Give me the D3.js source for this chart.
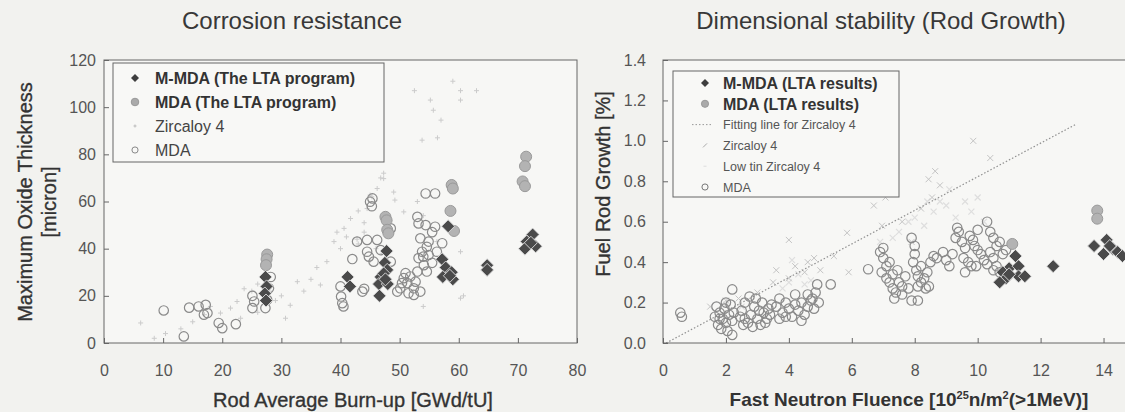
<!DOCTYPE html>
<html>
<head>
<meta charset="utf-8">
<script src="https://cdn.jsdelivr.net/npm/d3@7"></script>
<style>
  body { margin: 0; background: #f2f2ef; }
  svg { display: block; font-family: Arial, "Liberation Sans", sans-serif; }
  .tick text { fill: #555; font-size: 16px; }
  .heavy { stroke: #333; stroke-width: 0.35px; }
</style>
</head>
<body>
<svg id="chart" width="1125" height="412"></svg>
<script>
// ---- left chart: corrosion (burn-up GWd/tU, oxide micron) ----
var corrMMDA = [[27.3,28],[27.5,24],[27.2,21],[27.4,18],[41.2,28],[41.6,24],
    [47.8,39],[47.5,34],[47.9,31],[46.8,28],[47.3,29.5],[46.5,25],[48,25],[46.6,20],[47.6,27],
    [58.2,49.5],[57.2,35.5],[57.8,32],[58.8,30],[57.3,28],[59,27],[58.5,28.5],
    [64.8,33],[64.8,31],[72.5,46],[71.5,43],[73,41],[71.2,40],[72.2,42.5]];
var corrMDALTA = [[27.6,37.5],[27.5,35.5],[27.4,33],[47.6,53.5],[47.8,52],[47.9,48],[48.1,46.5],
    [58.8,67],[59,65.5],[58.6,56],[59.2,47.5],[71.4,79],[71.2,75],[70.8,68.5],[71.2,66.5]];
var corrZirc = [[6.2,8.5],[8.5,2],[10.4,4],[13,6],[15,9],[17,12],[18,15.5],[19.7,12.7],[21.4,14.8],
    [22.5,17.6],[23.7,23],[23.1,10.5],[26,13],[25,22],[26,25],[28,22],[29,18],[30,20],[30.7,10.5],
    [31.5,16],[32.7,26],[33.8,22],[35,27],[36,32],[36.6,24.6],[37.7,34.5],[38.9,43],[39.4,47],
    [40.6,48.6],[40,40],[41,45],[41.7,52.8],[42.8,44],[43,42],[43,56],[44,47],[44,51],[44.5,57],
    [45,35],[45,62.7],[45.3,62],[46,40],[46.2,65.5],[46.7,79],[46.8,70],[47,38],[47.3,72],[47.3,69.7],
    [49,64],[49.2,60.6],[50.7,55.6],[53,60],[54,54],[54,15.5],[56.3,43],[60.3,38.7],[60.8,20],
    [60.3,19],[52.5,107],[55.2,103],[60.3,107],[55.7,98.7],[57,94.5],[60.3,103],[53.8,86],
    [56.4,87],[63,107],[59,111]];
var corrMDA = [[10.1,13.8],[13.5,2.8],[14.4,15],[16,15.5],[17.2,16.2],[17.5,12.7],[16.9,12],
    [19.4,8.5],[20,6.3],[22.3,8],[25.1,20],[25.1,14.8],[25.4,17.6],[27.3,14.8],[27.6,18.3],
    [27.9,23.2],[28.2,28],[40.1,19.7],[40.3,16.9],[40.5,15.5],[40,24],[42,35.6],[42.8,43],
    [44.5,43.7],[44.5,38.7],[44.8,36.6],[45.6,34.5],[45,59.9],[45.3,58],[45.4,61.3],[46.2,43.7],
    [46.8,39.4],[48.5,48.6],[48.5,34.5],[43.7,21.8],[44,23],[49.6,21.8],[50.7,27.5],[51.3,25.4],
    [51.8,28.2],[52.4,23.2],[53,30.3],[50.1,23.2],[50.4,25.4],[51,29.6],[52.7,26],[53.2,36],
    [53.8,38.7],[54.1,33],[54.9,37.3],[55.5,34],[54.6,40.8],[53.5,44.4],[54.9,43],[53,53.5],
    [53.2,50.7],[54.4,50],[55.5,47],[56,49.3],[57.2,42.3],[54.4,63.4],[56,63.4],[54,36.6],
    [56.3,38.7],[54.6,30.3],[53.5,21.8],[52.4,20.4],[51.5,21.1]];

// ---- right chart: rod growth (fluence 1e25 n/m2, growth %) ----
var growthMMDA = [[11.2,0.43],[11.0,0.37],[10.8,0.35],[11.3,0.38],[10.9,0.32],[11.3,0.33],
    [10.7,0.30],[11.5,0.33],[11.0,0.34],[12.4,0.38],[13.7,0.48],[14.1,0.51],[14.3,0.465],
    [14.0,0.44],[14.45,0.45],[14.6,0.43],[14.2,0.48]];
var growthMDALTA = [[11.1,0.49],[13.8,0.655],[13.8,0.615]];
var fitLine = [[0.1,0.0],[13.1,1.08]];
var growthZirc = [[1.5,0.18],[2.0,0.21],[2.4,0.22],[3.0,0.25],[3.5,0.3],[3.6,0.36],[4.0,0.32],
    [4.2,0.38],[4.5,0.35],[4.6,0.4],[4.8,0.42],[5.0,0.36],[4.0,0.51],[5.85,0.545],[5.43,0.43],
    [5.9,0.35],[6.7,0.68],[7.07,0.72],[8.44,0.81],[8.65,0.85],[8.8,0.78],[8.55,0.72],[9.86,1.0],
    [10.4,0.915],[6.96,0.58],[7.6,0.6],[8.2,0.665],[7.9,0.5]];
var growthLowTin = [[3.8,0.27],[4.0,0.3],[4.3,0.34],[4.5,0.29],[4.7,0.31],[4.1,0.41],[7.5,0.55],
    [7.8,0.6],[8.0,0.62],[8.3,0.58],[8.6,0.65],[8.8,0.7],[9.0,0.68],[9.3,0.62],[9.6,0.7],[9.8,0.65],
    [10.0,0.72],[10.2,0.6],[9.1,0.76],[8.4,0.7],[7.3,0.52],[6.9,0.5],[2.0,0.19],[2.5,0.18]];
var growthMDA = [[0.55,0.15],[0.6,0.13],
    [1.7,0.18],[1.8,0.15],[1.9,0.12],[2.0,0.10],[1.75,0.09],[2.1,0.14],[2.2,0.11],[1.85,0.07],
    [2.05,0.06],[2.2,0.04],[1.95,0.17],[2.15,0.19],[1.65,0.13],[2.25,0.15],[2.0,0.2],[1.8,0.12],
    [2.2,0.265],[2.5,0.16],[2.6,0.12],[2.7,0.1],[2.8,0.14],[2.9,0.18],[3.0,0.12],[3.1,0.09],
    [3.2,0.15],[3.3,0.12],[3.4,0.14],[2.6,0.2],[2.75,0.23],[2.95,0.22],[3.15,0.2],[3.35,0.17],
    [2.55,0.09],[3.05,0.16],[3.25,0.1],[2.85,0.08],[3.45,0.19],[2.45,0.13],
    [3.6,0.18],[3.7,0.22],[3.8,0.15],[3.9,0.2],[4.0,0.17],[4.1,0.13],[4.2,0.19],[4.3,0.16],
    [4.4,0.2],[4.5,0.14],[4.6,0.18],[4.7,0.21],[4.8,0.17],[4.85,0.25],[4.9,0.29],[4.75,0.22],
    [4.2,0.24],[3.9,0.13],[4.4,0.11],[4.6,0.24],[3.7,0.12],[4.95,0.2],[5.33,0.29],[6.52,0.365],
    [6.9,0.45],[7.0,0.42],[7.1,0.38],[6.95,0.35],[7.2,0.3],[7.3,0.27],[7.4,0.25],[7.1,0.32],
    [7.5,0.3],[7.6,0.28],[7.3,0.34],[7.2,0.4],[7.45,0.36],[7.7,0.33],[7.35,0.22],[7.0,0.47],
    [7.6,0.24],[7.8,0.27],[7.9,0.52],[8.0,0.48],[8.0,0.44],[7.95,0.4],[8.05,0.36],[8.1,0.33],
    [8.2,0.3],[8.3,0.32],[8.4,0.35],[8.2,0.38],[8.5,0.4],[8.6,0.43],[8.7,0.42],[8.35,0.27],
    [8.1,0.28],[7.9,0.21],[8.1,0.21],[8.45,0.28],
    [8.9,0.45],[9.0,0.41],[9.2,0.44],[9.1,0.38],[9.3,0.52],[9.4,0.55],[9.5,0.5],[9.35,0.57],
    [9.6,0.47],[9.7,0.4],[9.8,0.38],[9.55,0.42],[9.75,0.53],[9.85,0.51],[9.9,0.48],[10.0,0.46],
    [10.1,0.44],[10.2,0.41],[9.95,0.38],[10.3,0.39],[10.0,0.56],[9.6,0.35],
    [10.3,0.6],[10.4,0.55],[10.5,0.52],[10.6,0.48],[10.4,0.45],[10.5,0.42],[10.6,0.38],
    [10.7,0.35],[10.8,0.44],[10.5,0.36],[10.9,0.46],[10.7,0.5]];

var corrXTicks = [0,10,20,30,40,50,60,70,80];
var corrYTicks = [0,20,40,60,80,100,120];
var growthXTicks = [0,2,4,6,8,10,12,14];
var growthYTicks = [0,0.2,0.4,0.6,0.8,1.0,1.2,1.4];

var svg = d3.select("#chart");

svg.append("rect").attr("width", 1125).attr("height", 412).attr("fill", "#f2f2ef");

var plusPath = "M-2.5,0H2.5M0,-2.5V2.5";
var xPath = "M-3,-3L3,3M-3,3L3,-3";
var diamond = "M0,-6.5L6.5,0L0,6.5L-6.5,0Z";
var diamondSmall = "M0,-4L4,0L0,4L-4,0Z";

function drawMarks(g, data, x, y, kind) {
    var sel = g.append("g").selectAll("path").data(data).enter().append("path")
        .attr("transform", function (d) { return "translate(" + x(d[0]) + "," + y(d[1]) + ")"; });
    if (kind == "diamond") {
        sel.attr("d", diamond).attr("fill", "#4a4a4a").attr("stroke", "#e0e0e0").attr("stroke-width", 0.9);
    } else if (kind == "disc") {
        sel.attr("d", d3.symbol().type(d3.symbolCircle).size(95)())
            .attr("fill", "#b3b3b3").attr("stroke", "#9a9a9a").attr("stroke-width", 1);
    } else if (kind == "ring") {
        sel.attr("d", d3.symbol().type(d3.symbolCircle).size(70)())
            .attr("fill", "none").attr("stroke", "#8a8a8a").attr("stroke-width", 1.2);
    } else if (kind == "plus") {
        sel.attr("d", plusPath).attr("stroke", "#cbcbcb").attr("stroke-width", 1).attr("fill", "none");
    } else if (kind == "x") {
        sel.attr("d", xPath).attr("stroke", "#c4c4c4").attr("stroke-width", 1).attr("fill", "none");
    } else if (kind == "lowtin") {
        sel.attr("d", xPath).attr("stroke", "#dedede").attr("stroke-width", 1.2).attr("fill", "none");
    }
}

function drawAxes(g, x, y, xTicks, yTicks, yFmt, yPad) {
    var x0 = x.range()[0], y0 = y.range()[0];
    g.append("g").attr("transform", "translate(0," + y0 + ")")
        .call(d3.axisBottom(x).tickValues(xTicks).tickSizeInner(-5).tickSizeOuter(0).tickPadding(22))
        .call(function (a) { a.select(".domain").remove(); a.selectAll("line").attr("stroke", "#666"); });
    g.append("g").attr("transform", "translate(" + x0 + ",0)")
        .call(d3.axisLeft(y).tickValues(yTicks).tickFormat(yFmt).tickSizeInner(-5).tickSizeOuter(0).tickPadding(yPad))
        .call(function (a) { a.select(".domain").remove(); a.selectAll("line").attr("stroke", "#666"); });
    g.append("rect")
        .attr("x", x0).attr("y", y.range()[1])
        .attr("width", x.range()[1] - x0).attr("height", y0 - y.range()[1])
        .attr("fill", "none").attr("stroke", "#666").attr("stroke-width", 1);
}

// ---------------- left ----------------
var xL = d3.scaleLinear().domain([0, 80]).range([104, 577]);
var yL = d3.scaleLinear().domain([0, 120]).range([343, 60]);
var gL = svg.append("g");

gL.append("rect").attr("x", 104).attr("y", 60).attr("width", 473).attr("height", 283).attr("fill", "#f7f7f5");
drawMarks(gL, corrZirc, xL, yL, "plus");
drawMarks(gL, corrMDA, xL, yL, "ring");
drawMarks(gL, corrMDALTA, xL, yL, "disc");
drawMarks(gL, corrMMDA, xL, yL, "diamond");
drawAxes(gL, xL, yL, corrXTicks, corrYTicks, d3.format("d"), 8);

gL.append("text").attr("x", 292).attr("y", 29).attr("text-anchor", "middle")
    .attr("font-size", 24).attr("fill", "#383838").text("Corrosion resistance");
gL.append("text").attr("class", "heavy").attr("x", 353).attr("y", 407).attr("text-anchor", "middle")
    .attr("font-size", 20).attr("fill", "#333").text("Rod Average Burn-up [GWd/tU]");
gL.append("text").attr("class", "heavy").attr("transform", "translate(32,202) rotate(-90)").attr("text-anchor", "middle")
    .attr("font-size", 20).attr("fill", "#333").text("Maximum Oxide Thickness");
gL.append("text").attr("class", "heavy").attr("transform", "translate(56,202) rotate(-90)").attr("text-anchor", "middle")
    .attr("font-size", 20).attr("fill", "#333").text("[micron]");

// left legend
var legL = gL.append("g");
legL.append("rect").attr("x", 113).attr("y", 63).attr("width", 271).attr("height", 99)
    .attr("fill", "#f8f8f6").attr("stroke", "#666");
var legLItems = [
    {label: "M-MDA (The LTA program)", kind: "diamond", bold: true},
    {label: "MDA (The LTA program)", kind: "disc", bold: true},
    {label: "Zircaloy 4", kind: "plus", bold: false},
    {label: "MDA", kind: "ring", bold: false}
];
legLItems.forEach(function (it, i) {
    var cy = 78 + i * 24;
    var m = legL.append("path").attr("transform", "translate(135," + cy + ")");
    if (it.kind == "diamond") m.attr("d", diamondSmall).attr("fill", "#3e3e3e");
    if (it.kind == "disc") m.attr("d", d3.symbol().type(d3.symbolCircle).size(45)()).attr("fill", "#aaa").attr("stroke", "#999");
    if (it.kind == "plus") m.attr("d", "M-1.5,0H1.5M0,-1.5V1.5").attr("stroke", "#bbb");
    if (it.kind == "ring") m.attr("d", d3.symbol().type(d3.symbolCircle).size(30)()).attr("fill", "none").attr("stroke", "#888");
    legL.append("text").attr("x", 155).attr("y", cy).attr("dy", "0.36em")
        .attr("font-size", 16).attr("font-weight", it.bold ? "bold" : "normal")
        .attr("fill", it.bold ? "#333" : "#444").text(it.label);
});

// ---------------- right ----------------
var xR = d3.scaleLinear().domain([0, 15]).range([663, 1135]);
var yR = d3.scaleLinear().domain([0, 1.4]).range([343, 60]);
var gR = svg.append("g");

gR.append("rect").attr("x", 663).attr("y", 60).attr("width", 472).attr("height", 283).attr("fill", "#f7f7f5");
drawMarks(gR, growthLowTin, xR, yR, "lowtin");
drawMarks(gR, growthZirc, xR, yR, "x");
gR.append("path").datum(fitLine)
    .attr("d", d3.line().x(function (d) { return xR(d[0]); }).y(function (d) { return yR(d[1]); }))
    .attr("fill", "none").attr("stroke", "#8f8f8f").attr("stroke-width", 1.2).attr("stroke-dasharray", "1.5,2");
drawMarks(gR, growthMDA, xR, yR, "ring");
drawMarks(gR, growthMDALTA, xR, yR, "disc");
drawMarks(gR, growthMMDA, xR, yR, "diamond");
drawAxes(gR, xR, yR, growthXTicks, growthYTicks, d3.format(".1f"), 17);

gR.append("text").attr("x", 881).attr("y", 29).attr("text-anchor", "middle")
    .attr("font-size", 24).attr("fill", "#383838").text("Dimensional stability (Rod Growth)");
var xt = gR.append("text").attr("x", 909).attr("y", 406).attr("text-anchor", "middle")
    .attr("font-size", 19).attr("font-weight", "bold").attr("fill", "#333");
xt.append("tspan").text("Fast Neutron Fluence [10");
xt.append("tspan").attr("font-size", 11).attr("dy", -7).text("25");
xt.append("tspan").attr("dy", 7).text("n/m");
xt.append("tspan").attr("font-size", 11).attr("dy", -7).text("2");
xt.append("tspan").attr("dy", 7).text("(>1MeV)]");
gR.append("text").attr("class", "heavy").attr("transform", "translate(610,184) rotate(-90)").attr("text-anchor", "middle")
    .attr("font-size", 20).attr("fill", "#333").text("Fuel Rod Growth [%]");

// right legend
var legR = gR.append("g");
legR.append("rect").attr("x", 673).attr("y", 71).attr("width", 226).attr("height", 126)
    .attr("fill", "#f8f8f6").attr("stroke", "#666");
var legRItems = [
    {label: "M-MDA (LTA results)", kind: "diamond", bold: true},
    {label: "MDA (LTA results)", kind: "disc", bold: true},
    {label: "Fitting line for Zircaloy 4", kind: "line", bold: false},
    {label: "Zircaloy 4", kind: "x", bold: false},
    {label: "Low tin Zircaloy 4", kind: "lowtin", bold: false},
    {label: "MDA", kind: "ring", bold: false}
];
legRItems.forEach(function (it, i) {
    var cy = 83 + i * 20.8;
    if (it.kind == "line") {
        legR.append("line").attr("x1", 692).attr("x2", 712).attr("y1", cy).attr("y2", cy)
            .attr("stroke", "#999").attr("stroke-dasharray", "1.5,2");
    } else {
        var m = legR.append("path").attr("transform", "translate(705," + cy + ")");
        if (it.kind == "diamond") m.attr("d", diamondSmall).attr("fill", "#3e3e3e");
        if (it.kind == "disc") m.attr("d", d3.symbol().type(d3.symbolCircle).size(40)()).attr("fill", "#aaa").attr("stroke", "#999");
        if (it.kind == "x") m.attr("d", "M-2,2L2,-2").attr("stroke", "#aaa");
        if (it.kind == "lowtin") m.attr("d", "M-1.5,0H1.5").attr("stroke", "#ddd");
        if (it.kind == "ring") m.attr("d", d3.symbol().type(d3.symbolCircle).size(30)()).attr("fill", "none").attr("stroke", "#777");
    }
    legR.append("text").attr("x", 723).attr("y", cy).attr("dy", "0.36em")
        .attr("font-size", it.bold ? 16 : 12.5).attr("font-weight", it.bold ? "bold" : "normal")
        .attr("fill", it.bold ? "#333" : "#555").text(it.label);
});
</script>
</body>
</html>
